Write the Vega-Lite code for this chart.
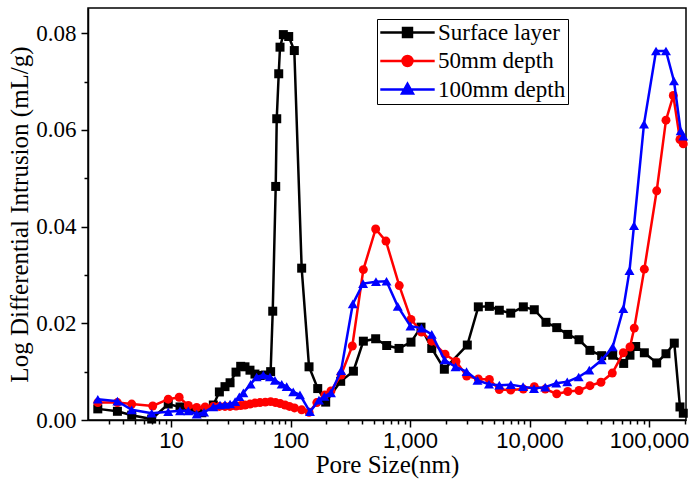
{
  "$schema": "https://vega.github.io/schema/vega-lite/v6.json",
  "width": 598,
  "height": 412,
  "autosize": {"type": "none"},
  "padding": {"left": 88, "top": 8, "right": 14, "bottom": 69},
  "background": "white",
  "config": {
    "view": {"stroke": "black", "strokeWidth": 1.5},
    "axis": {
      "grid": false,
      "domainColor": "black",
      "domainWidth": 1.5,
      "tickColor": "black",
      "tickWidth": 1.5,
      "labelColor": "black",
      "titleColor": "black"
    }
  },
  "data": {
    "values": [
      {"s": "Surface layer", "x": 2.44, "y": 0.0023},
      {"s": "Surface layer", "x": 3.56, "y": 0.0018},
      {"s": "Surface layer", "x": 4.69, "y": 0.0010},
      {"s": "Surface layer", "x": 6.89, "y": 0.0002},
      {"s": "Surface layer", "x": 9.48, "y": 0.0033},
      {"s": "Surface layer", "x": 11.9, "y": 0.0027},
      {"s": "Surface layer", "x": 14.2, "y": 0.0021},
      {"s": "Surface layer", "x": 18.1, "y": 0.0015},
      {"s": "Surface layer", "x": 22.6, "y": 0.0031},
      {"s": "Surface layer", "x": 25.4, "y": 0.0058},
      {"s": "Surface layer", "x": 28.3, "y": 0.0069},
      {"s": "Surface layer", "x": 31.2, "y": 0.0077},
      {"s": "Surface layer", "x": 35.0, "y": 0.0099},
      {"s": "Surface layer", "x": 38.3, "y": 0.0111},
      {"s": "Surface layer", "x": 41.6, "y": 0.0110},
      {"s": "Surface layer", "x": 45.8, "y": 0.0103},
      {"s": "Surface layer", "x": 50.4, "y": 0.0095},
      {"s": "Surface layer", "x": 55.5, "y": 0.0092},
      {"s": "Surface layer", "x": 61.5, "y": 0.0093},
      {"s": "Surface layer", "x": 68.2, "y": 0.0100},
      {"s": "Surface layer", "x": 71.0, "y": 0.0225},
      {"s": "Surface layer", "x": 75.2, "y": 0.0483},
      {"s": "Surface layer", "x": 76.7, "y": 0.0623},
      {"s": "Surface layer", "x": 79.7, "y": 0.0716},
      {"s": "Surface layer", "x": 81.7, "y": 0.0771},
      {"s": "Surface layer", "x": 87.1, "y": 0.0797},
      {"s": "Surface layer", "x": 96.6, "y": 0.0793},
      {"s": "Surface layer", "x": 107.6, "y": 0.0764},
      {"s": "Surface layer", "x": 124, "y": 0.0314},
      {"s": "Surface layer", "x": 142.9, "y": 0.0110},
      {"s": "Surface layer", "x": 169, "y": 0.0065},
      {"s": "Surface layer", "x": 197, "y": 0.0037},
      {"s": "Surface layer", "x": 263, "y": 0.0080},
      {"s": "Surface layer", "x": 336, "y": 0.0101},
      {"s": "Surface layer", "x": 407, "y": 0.0163},
      {"s": "Surface layer", "x": 516, "y": 0.0168},
      {"s": "Surface layer", "x": 638, "y": 0.0154},
      {"s": "Surface layer", "x": 809, "y": 0.0148},
      {"s": "Surface layer", "x": 1019, "y": 0.0161},
      {"s": "Surface layer", "x": 1236, "y": 0.0192},
      {"s": "Surface layer", "x": 1520, "y": 0.0148},
      {"s": "Surface layer", "x": 1938, "y": 0.0105},
      {"s": "Surface layer", "x": 3016, "y": 0.0155},
      {"s": "Surface layer", "x": 3730, "y": 0.0234},
      {"s": "Surface layer", "x": 4613, "y": 0.0235},
      {"s": "Surface layer", "x": 5589, "y": 0.0227},
      {"s": "Surface layer", "x": 6965, "y": 0.0221},
      {"s": "Surface layer", "x": 8877, "y": 0.0234},
      {"s": "Surface layer", "x": 10965, "y": 0.0228},
      {"s": "Surface layer", "x": 13740, "y": 0.0202},
      {"s": "Surface layer", "x": 16900, "y": 0.0191},
      {"s": "Surface layer", "x": 20890, "y": 0.0177},
      {"s": "Surface layer", "x": 25950, "y": 0.0166},
      {"s": "Surface layer", "x": 32060, "y": 0.0144},
      {"s": "Surface layer", "x": 40180, "y": 0.0133},
      {"s": "Surface layer", "x": 49660, "y": 0.0134},
      {"s": "Surface layer", "x": 61400, "y": 0.0117},
      {"s": "Surface layer", "x": 69300, "y": 0.0134},
      {"s": "Surface layer", "x": 77400, "y": 0.0152},
      {"s": "Surface layer", "x": 91400, "y": 0.0139},
      {"s": "Surface layer", "x": 116000, "y": 0.0118},
      {"s": "Surface layer", "x": 138700, "y": 0.0137},
      {"s": "Surface layer", "x": 162800, "y": 0.0159},
      {"s": "Surface layer", "x": 181600, "y": 0.0027},
      {"s": "Surface layer", "x": 193600, "y": 0.0014},

      {"s": "50mm depth", "x": 2.44, "y": 0.0036},
      {"s": "50mm depth", "x": 3.56, "y": 0.0036},
      {"s": "50mm depth", "x": 4.69, "y": 0.0033},
      {"s": "50mm depth", "x": 7.03, "y": 0.0029},
      {"s": "50mm depth", "x": 9.48, "y": 0.0043},
      {"s": "50mm depth", "x": 11.7, "y": 0.0047},
      {"s": "50mm depth", "x": 13.96, "y": 0.0030},
      {"s": "50mm depth", "x": 16.4, "y": 0.0026},
      {"s": "50mm depth", "x": 19.3, "y": 0.0027},
      {"s": "50mm depth", "x": 22.6, "y": 0.0028},
      {"s": "50mm depth", "x": 25.4, "y": 0.0028},
      {"s": "50mm depth", "x": 28.3, "y": 0.0028},
      {"s": "50mm depth", "x": 31.2, "y": 0.0028},
      {"s": "50mm depth", "x": 35.0, "y": 0.0029},
      {"s": "50mm depth", "x": 38.3, "y": 0.0030},
      {"s": "50mm depth", "x": 41.6, "y": 0.0031},
      {"s": "50mm depth", "x": 45.8, "y": 0.0033},
      {"s": "50mm depth", "x": 50.4, "y": 0.0035},
      {"s": "50mm depth", "x": 55.5, "y": 0.0036},
      {"s": "50mm depth", "x": 61.5, "y": 0.0037},
      {"s": "50mm depth", "x": 68.2, "y": 0.0038},
      {"s": "50mm depth", "x": 75, "y": 0.0036},
      {"s": "50mm depth", "x": 82, "y": 0.0034},
      {"s": "50mm depth", "x": 90, "y": 0.0031},
      {"s": "50mm depth", "x": 98, "y": 0.0028},
      {"s": "50mm depth", "x": 108, "y": 0.0025},
      {"s": "50mm depth", "x": 124, "y": 0.0021},
      {"s": "50mm depth", "x": 143, "y": 0.0016},
      {"s": "50mm depth", "x": 166, "y": 0.0036},
      {"s": "50mm depth", "x": 194, "y": 0.0052},
      {"s": "50mm depth", "x": 218, "y": 0.0060},
      {"s": "50mm depth", "x": 265, "y": 0.0093},
      {"s": "50mm depth", "x": 329, "y": 0.0153},
      {"s": "50mm depth", "x": 407, "y": 0.0311},
      {"s": "50mm depth", "x": 516, "y": 0.0395},
      {"s": "50mm depth", "x": 629, "y": 0.0370},
      {"s": "50mm depth", "x": 813, "y": 0.0278},
      {"s": "50mm depth", "x": 1019, "y": 0.0208},
      {"s": "50mm depth", "x": 1247, "y": 0.0182},
      {"s": "50mm depth", "x": 1520, "y": 0.0163},
      {"s": "50mm depth", "x": 1964, "y": 0.0136},
      {"s": "50mm depth", "x": 2427, "y": 0.0121},
      {"s": "50mm depth", "x": 2980, "y": 0.0091},
      {"s": "50mm depth", "x": 3730, "y": 0.0085},
      {"s": "50mm depth", "x": 4613, "y": 0.0084},
      {"s": "50mm depth", "x": 5589, "y": 0.0063},
      {"s": "50mm depth", "x": 6965, "y": 0.0062},
      {"s": "50mm depth", "x": 8877, "y": 0.0064},
      {"s": "50mm depth", "x": 10965, "y": 0.0069},
      {"s": "50mm depth", "x": 13550, "y": 0.0064},
      {"s": "50mm depth", "x": 16900, "y": 0.0054},
      {"s": "50mm depth", "x": 20890, "y": 0.0059},
      {"s": "50mm depth", "x": 25950, "y": 0.0061},
      {"s": "50mm depth", "x": 32060, "y": 0.0071},
      {"s": "50mm depth", "x": 39630, "y": 0.0078},
      {"s": "50mm depth", "x": 49300, "y": 0.0097},
      {"s": "50mm depth", "x": 60950, "y": 0.0139},
      {"s": "50mm depth", "x": 69300, "y": 0.0151},
      {"s": "50mm depth", "x": 75300, "y": 0.0190},
      {"s": "50mm depth", "x": 91400, "y": 0.0312},
      {"s": "50mm depth", "x": 116000, "y": 0.0474},
      {"s": "50mm depth", "x": 138700, "y": 0.0620},
      {"s": "50mm depth", "x": 159700, "y": 0.0671},
      {"s": "50mm depth", "x": 181600, "y": 0.0580},
      {"s": "50mm depth", "x": 193600, "y": 0.0571},

      {"s": "100mm depth", "x": 2.44, "y": 0.0043},
      {"s": "100mm depth", "x": 3.56, "y": 0.0039},
      {"s": "100mm depth", "x": 4.69, "y": 0.0021},
      {"s": "100mm depth", "x": 6.89, "y": 0.0014},
      {"s": "100mm depth", "x": 9.48, "y": 0.0017},
      {"s": "100mm depth", "x": 11.9, "y": 0.0019},
      {"s": "100mm depth", "x": 13.96, "y": 0.0019},
      {"s": "100mm depth", "x": 16.4, "y": 0.0012},
      {"s": "100mm depth", "x": 18.9, "y": 0.0016},
      {"s": "100mm depth", "x": 22.6, "y": 0.0027},
      {"s": "100mm depth", "x": 25.7, "y": 0.0031},
      {"s": "100mm depth", "x": 28.3, "y": 0.0032},
      {"s": "100mm depth", "x": 31.2, "y": 0.0033},
      {"s": "100mm depth", "x": 34.4, "y": 0.0038},
      {"s": "100mm depth", "x": 37.3, "y": 0.0048},
      {"s": "100mm depth", "x": 40.3, "y": 0.0056},
      {"s": "100mm depth", "x": 46.4, "y": 0.0074},
      {"s": "100mm depth", "x": 52.1, "y": 0.0089},
      {"s": "100mm depth", "x": 59.2, "y": 0.0093},
      {"s": "100mm depth", "x": 67.3, "y": 0.0089},
      {"s": "100mm depth", "x": 74.1, "y": 0.0082},
      {"s": "100mm depth", "x": 84.4, "y": 0.0074},
      {"s": "100mm depth", "x": 92.9, "y": 0.0069},
      {"s": "100mm depth", "x": 105.4, "y": 0.0058},
      {"s": "100mm depth", "x": 120, "y": 0.0052},
      {"s": "100mm depth", "x": 145.5, "y": 0.0017},
      {"s": "100mm depth", "x": 173, "y": 0.0041},
      {"s": "100mm depth", "x": 192, "y": 0.0049},
      {"s": "100mm depth", "x": 218, "y": 0.0056},
      {"s": "100mm depth", "x": 265, "y": 0.0102},
      {"s": "100mm depth", "x": 332, "y": 0.0240},
      {"s": "100mm depth", "x": 405, "y": 0.0282},
      {"s": "100mm depth", "x": 519, "y": 0.0286},
      {"s": "100mm depth", "x": 636, "y": 0.0287},
      {"s": "100mm depth", "x": 790, "y": 0.0235},
      {"s": "100mm depth", "x": 1009, "y": 0.0194},
      {"s": "100mm depth", "x": 1247, "y": 0.0190},
      {"s": "100mm depth", "x": 1520, "y": 0.0177},
      {"s": "100mm depth", "x": 1951, "y": 0.0124},
      {"s": "100mm depth", "x": 2404, "y": 0.0110},
      {"s": "100mm depth", "x": 2972, "y": 0.0100},
      {"s": "100mm depth", "x": 3673, "y": 0.0082},
      {"s": "100mm depth", "x": 4581, "y": 0.0074},
      {"s": "100mm depth", "x": 5589, "y": 0.0072},
      {"s": "100mm depth", "x": 6980, "y": 0.0073},
      {"s": "100mm depth", "x": 8830, "y": 0.0069},
      {"s": "100mm depth", "x": 10900, "y": 0.0065},
      {"s": "100mm depth", "x": 13530, "y": 0.0068},
      {"s": "100mm depth", "x": 16750, "y": 0.0076},
      {"s": "100mm depth", "x": 20700, "y": 0.0079},
      {"s": "100mm depth", "x": 25800, "y": 0.0089},
      {"s": "100mm depth", "x": 31640, "y": 0.0103},
      {"s": "100mm depth", "x": 40180, "y": 0.0124},
      {"s": "100mm depth", "x": 49660, "y": 0.0151},
      {"s": "100mm depth", "x": 60950, "y": 0.0230},
      {"s": "100mm depth", "x": 68700, "y": 0.0309},
      {"s": "100mm depth", "x": 74900, "y": 0.0402},
      {"s": "100mm depth", "x": 90800, "y": 0.0612},
      {"s": "100mm depth", "x": 114500, "y": 0.0763},
      {"s": "100mm depth", "x": 138700, "y": 0.0763},
      {"s": "100mm depth", "x": 161800, "y": 0.0701},
      {"s": "100mm depth", "x": 184100, "y": 0.0598},
      {"s": "100mm depth", "x": 193600, "y": 0.0587}
    ]
  },
  "layer": [
    {
      "transform": [{"filter": "datum.s === 'Surface layer'"}],
      "mark": {"type": "line", "strokeWidth": 2.5, "point": {"filled": true, "shape": "square", "size": 81}},
      "encoding": {
        "x": {
          "field": "x", "type": "quantitative",
          "scale": {"type": "log", "domain": [2.02, 204000], "nice": false},
          "axis": {
            "orient": "bottom",
            "values": [10, 100, 1000, 10000, 100000],
            "format": ",d",
            "labelFont": "Liberation Sans",
            "labelFontSize": 22,
            "labelPadding": 3,
            "labelFlush": false,
            "labelOverlap": false,
            "tickSize": 7,
            "title": "Pore Size(nm)",
            "titleFont": "Liberation Serif",
            "titleFontSize": 25,
            "titleFontWeight": "normal",
            "titlePadding": 1
          }
        },
        "y": {
          "field": "y", "type": "quantitative",
          "scale": {"domain": [0, 0.0852], "nice": false, "zero": false},
          "axis": {
            "orient": "left",
            "values": [0, 0.02, 0.04, 0.06, 0.08],
            "format": ".2f",
            "labelFont": "Liberation Serif",
            "labelFontSize": 23,
            "labelPadding": 5,
            "tickSize": 7,
            "title": "Log Differential Intrusion (mL/g)",
            "titleFont": "Liberation Serif",
            "titleFontSize": 25,
            "titleFontWeight": "normal",
            "titlePadding": 3
          }
        },
        "color": {
          "field": "s", "type": "nominal",
          "scale": {"domain": ["Surface layer", "50mm depth", "100mm depth"], "range": ["#000000", "#ff0000", "#0000ff"]},
          "legend": {
            "title": null,
            "orient": "none",
            "legendX": 289,
            "legendY": 11,
            "padding": 2,
            "strokeColor": "black",
            "fillColor": "white",
            "labelFont": "Liberation Serif",
            "labelFontSize": 23,
            "labelColor": "black",
            "symbolSize": 256,
            "symbolOffset": 17,
            "symbolStrokeWidth": 2.5,
            "labelOffset": 19,
            "rowPadding": 4.5,
            "encode": {
              "symbols": {
                "update": {
                  "shape": {"signal": "datum.value === 'Surface layer' ? 'M-3.4,0H3.4M-0.56,-0.56H0.56V0.56H-0.56Z' : datum.value === '50mm depth' ? 'M-3.4,0H3.4M0.62,0A0.62,0.62 0 1,1 -0.62,0A0.62,0.62 0 1,1 0.62,0Z' : 'M-3.4,0H3.4M0,-0.7L0.68,0.5H-0.68Z'"},
                  "fill": {"signal": "datum.value === 'Surface layer' ? '#000000' : datum.value === '50mm depth' ? '#ff0000' : '#0000ff'"},
                  "stroke": {"signal": "datum.value === 'Surface layer' ? '#000000' : datum.value === '50mm depth' ? '#ff0000' : '#0000ff'"}
                }
              }
            }
          }
        }
      }
    },
    {
      "transform": [{"filter": "datum.s === '50mm depth'"}],
      "mark": {"type": "line", "strokeWidth": 2.5, "point": {"filled": true, "shape": "circle", "size": 80}},
      "encoding": {
        "x": {
          "field": "x", "type": "quantitative",
          "scale": {"type": "log", "domain": [2.02, 204000], "nice": false},
          "axis": {
            "orient": "bottom",
            "values": [3, 4, 5, 6, 7, 8, 9, 20, 30, 40, 50, 60, 70, 80, 90, 200, 300, 400, 500, 600, 700, 800, 900, 2000, 3000, 4000, 5000, 6000, 7000, 8000, 9000, 20000, 30000, 40000, 50000, 60000, 70000, 80000, 90000, 200000],
            "labels": false,
            "domain": false,
            "tickSize": 4,
            "title": null
          }
        },
        "y": {
          "field": "y", "type": "quantitative",
          "scale": {"domain": [0, 0.0852], "nice": false, "zero": false},
          "axis": {
            "orient": "left",
            "values": [0.01, 0.03, 0.05, 0.07],
            "labels": false,
            "domain": false,
            "tickSize": 4,
            "title": null
          }
        },
        "color": {"field": "s", "type": "nominal", "scale": {"domain": ["Surface layer", "50mm depth", "100mm depth"], "range": ["#000000", "#ff0000", "#0000ff"]}}
      }
    },
    {
      "transform": [{"filter": "datum.s === '100mm depth'"}],
      "mark": {"type": "line", "strokeWidth": 2.5, "point": {"filled": true, "shape": "triangle-up", "size": 100}},
      "encoding": {
        "x": {"field": "x", "type": "quantitative", "scale": {"type": "log", "domain": [2.02, 204000], "nice": false}, "axis": null},
        "y": {"field": "y", "type": "quantitative", "scale": {"domain": [0, 0.0852], "nice": false, "zero": false}, "axis": null},
        "color": {"field": "s", "type": "nominal", "scale": {"domain": ["Surface layer", "50mm depth", "100mm depth"], "range": ["#000000", "#ff0000", "#0000ff"]}}
      }
    }
  ],
  "resolve": {"axis": {"x": "independent", "y": "independent"}}
}
